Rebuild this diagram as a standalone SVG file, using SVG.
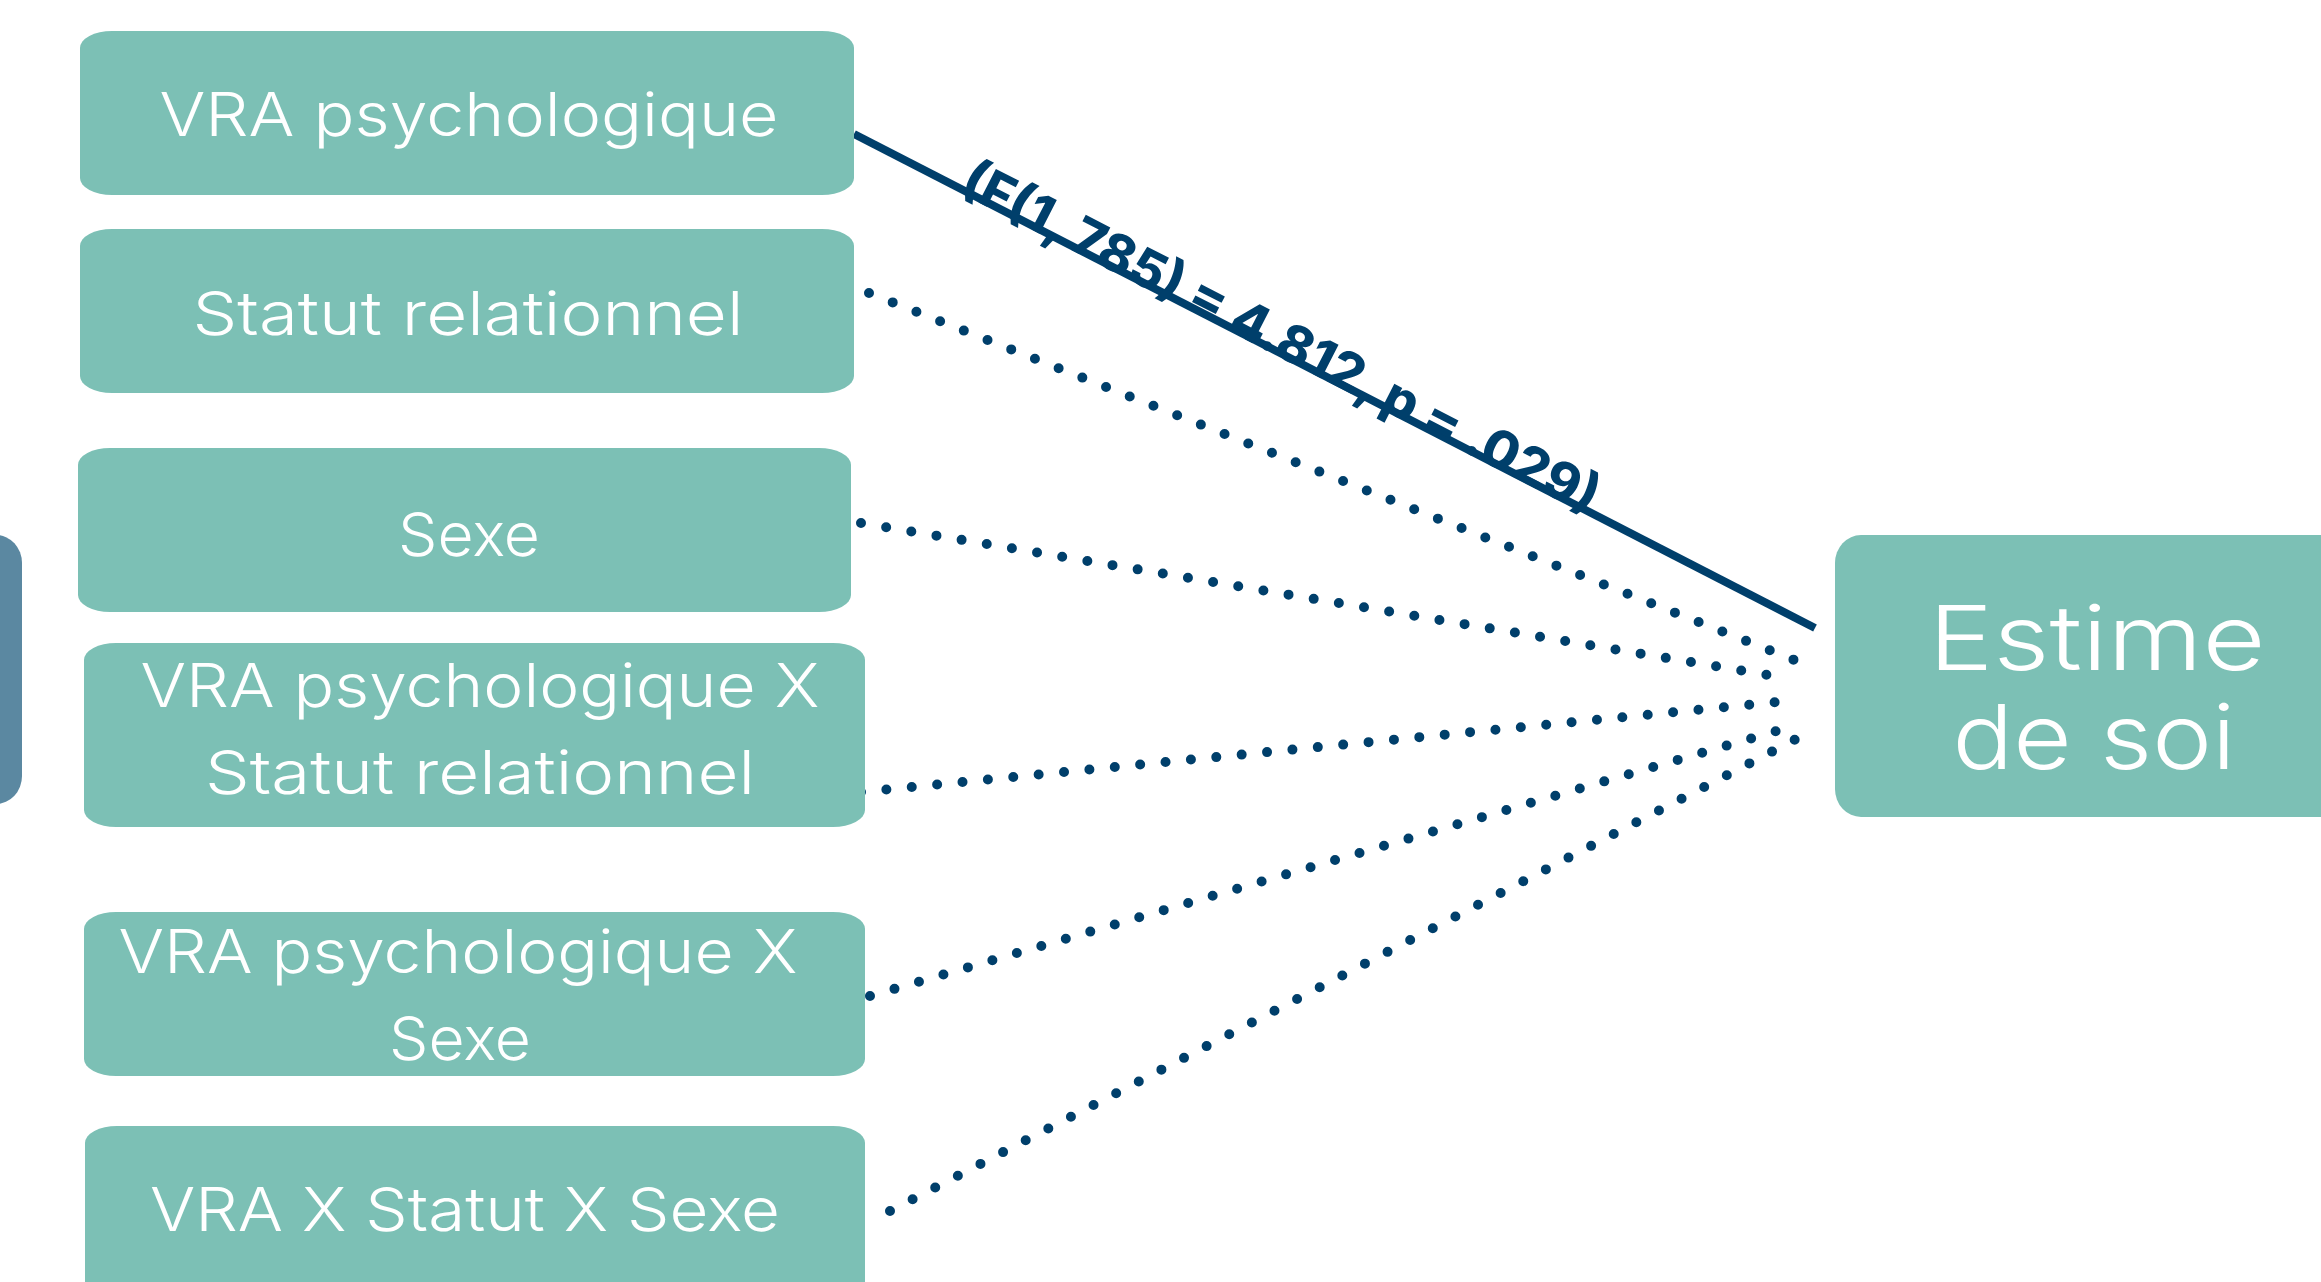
<svg xmlns="http://www.w3.org/2000/svg" width="2321" height="1282" viewBox="0 0 2321 1282">
  <style>
    .box { fill: #7cc0b5; }
    .side { fill: #5b88a1; }
    .lbl { fill: #ffffff; font-family: Inter, "Open Sans", "Liberation Sans", sans-serif; font-weight: 300; font-size: 61px; text-anchor: middle; }
    .big { font-size: 90px; }
    .solid { stroke: #003f6b; stroke-width: 8; fill: none; }
    .dot { stroke: #003f6b; stroke-width: 10; stroke-linecap: round; stroke-dasharray: 0 25.5; fill: none; }
    .stat { fill: #003f6b; font-family: Inter, "Open Sans", "Liberation Sans", sans-serif; font-weight: 800; font-size: 52px; }
  </style>
  <rect width="2321" height="1282" fill="#ffffff"/>
  <g id="side-box">
    <rect class="side" x="-60" y="535" width="82" height="269" rx="26" ry="28"/>
  </g>
  <g id="connectors">
    <line class="solid" x1="854" y1="134" x2="1815" y2="628"/>
    <line class="dot" x1="869" y1="293" x2="1812" y2="667"/>
    <line class="dot" x1="861" y1="523" x2="1774" y2="676"/>
    <line class="dot" x1="861" y1="792" x2="1777" y2="702"/>
    <line class="dot" x1="870" y1="996" x2="1780" y2="730"/>
    <line class="dot" x1="890" y1="1211" x2="1802" y2="736"/>
    <text class="stat" transform="translate(958,192) rotate(27.16)" textLength="708" lengthAdjust="spacingAndGlyphs">(F(1, 785) = 4.812, p = .029)</text>
  </g>
  <g id="n-vra">
    <rect class="box" x="80" y="31" width="774" height="164" rx="32" ry="17"/>
    <text class="lbl" x="469" y="136" textLength="619" lengthAdjust="spacingAndGlyphs">VRA psychologique</text>
  </g>
  <g id="n-statut">
    <rect class="box" x="80" y="229" width="774" height="164" rx="32" ry="17"/>
    <text class="lbl" x="468" y="335" textLength="551" lengthAdjust="spacingAndGlyphs">Statut relationnel</text>
  </g>
  <g id="n-sexe">
    <rect class="box" x="78" y="448" width="773" height="164" rx="32" ry="17"/>
    <text class="lbl" x="469" y="556" textLength="142" lengthAdjust="spacingAndGlyphs">Sexe</text>
  </g>
  <g id="n-vra-statut">
    <rect class="box" x="84" y="643" width="781" height="184" rx="32" ry="17"/>
    <text class="lbl" x="480" y="707" textLength="679" lengthAdjust="spacingAndGlyphs">VRA psychologique X</text>
    <text class="lbl" x="480" y="794" textLength="550" lengthAdjust="spacingAndGlyphs">Statut relationnel</text>
  </g>
  <g id="n-vra-sexe">
    <rect class="box" x="84" y="912" width="781" height="164" rx="32" ry="17"/>
    <text class="lbl" x="458" y="973" textLength="679" lengthAdjust="spacingAndGlyphs">VRA psychologique X</text>
    <text class="lbl" x="460" y="1060" textLength="142" lengthAdjust="spacingAndGlyphs">Sexe</text>
  </g>
  <g id="n-vra-statut-sexe">
    <rect class="box" x="85" y="1126" width="780" height="190" rx="32" ry="17"/>
    <text class="lbl" x="465" y="1231" textLength="630" lengthAdjust="spacingAndGlyphs">VRA X Statut X Sexe</text>
  </g>
  <g id="n-estime">
    <rect class="box" x="1835" y="535" width="540" height="282" rx="26" ry="28"/>
    <text class="lbl big" x="2097" y="670" textLength="337" lengthAdjust="spacingAndGlyphs">Estime</text>
    <text class="lbl big" x="2094" y="769" textLength="283" lengthAdjust="spacingAndGlyphs">de soi</text>
  </g>
</svg>
